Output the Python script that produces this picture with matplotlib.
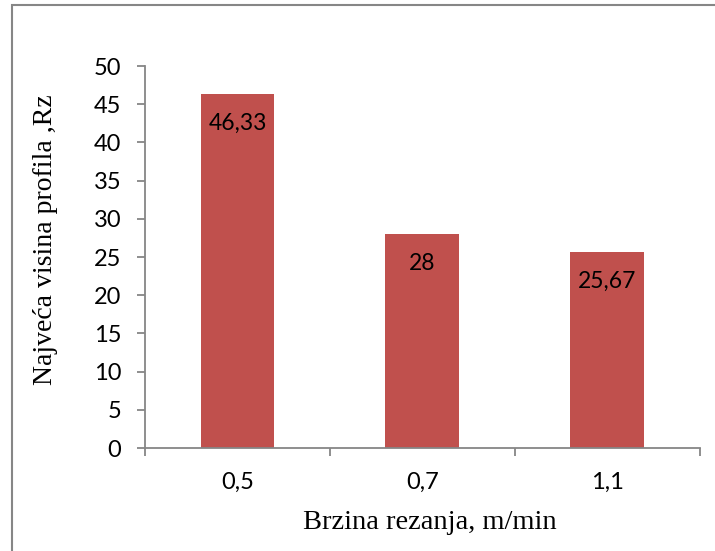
import matplotlib
matplotlib.use("Agg")
import matplotlib.pyplot as plt
from matplotlib.patches import Rectangle

# cutting speed vs. max profile height
speeds = ['0,5', '0,7', '1,1']
rz_values = [46.33, 28, 25.67]
value_labels = ['46,33', '28', '25,67']

bar_color = '#C0504D'
axis_gray = '#868686'

fig = plt.figure(figsize=(7.15, 5.51), dpi=100)
ax = fig.add_axes([0.2028, 0.1869, 0.979 - 0.2028, 0.8802 - 0.1869])

x = range(len(speeds))
bars = ax.bar(x, rz_values, width=0.4, color=bar_color, zorder=2)

for bar, txt in zip(bars, value_labels):
    ax.annotate(txt, (bar.get_x() + bar.get_width() / 2, bar.get_height()),
                xytext=(0, -21), textcoords='offset points',
                ha='center', va='center', fontsize=16.5, family='Lato',
                color='black')

ax.set_xlim(-0.5, len(speeds) - 0.5)
ax.set_ylim(0, 50)
ax.set_yticks(range(0, 51, 5))
ax.set_xticks(list(x))
ax.set_xticklabels(speeds)
# category separators on the x axis
ax.set_xticks([i - 0.5 for i in range(len(speeds) + 1)], minor=True)

for lbl in ax.get_xticklabels() + ax.get_yticklabels():
    lbl.set_fontfamily('Lato')
    lbl.set_fontsize(17)

ax.tick_params(axis='y', direction='out', length=6, width=1.3,
               color=axis_gray, pad=11)
ax.tick_params(axis='x', which='major', length=0, pad=17)
ax.tick_params(axis='x', which='minor', direction='out', length=6,
               width=1.3, color=axis_gray)

for side in ['top', 'right']:
    ax.spines[side].set_visible(False)
for side in ['left', 'bottom']:
    ax.spines[side].set_color(axis_gray)
    ax.spines[side].set_linewidth(1.3)

ax.set_xlabel('Brzina rezanja, m/min', family='Liberation Serif',
              fontsize=20.5, va='center')
ax.set_ylabel('Najveća visina profila ,Rz', family='Liberation Serif',
              fontsize=20, va='center')
ax.xaxis.set_label_coords(0.513, -0.194)
ax.yaxis.set_label_coords(-0.180, 0.545)

# chart frame
fig.patches.append(Rectangle((12 / 715, -0.1), 1.2, 1.1 - 5 / 551,
                             transform=fig.transFigure, fill=False,
                             edgecolor=axis_gray, linewidth=1.5))

fig.savefig('out.png', dpi=100)
